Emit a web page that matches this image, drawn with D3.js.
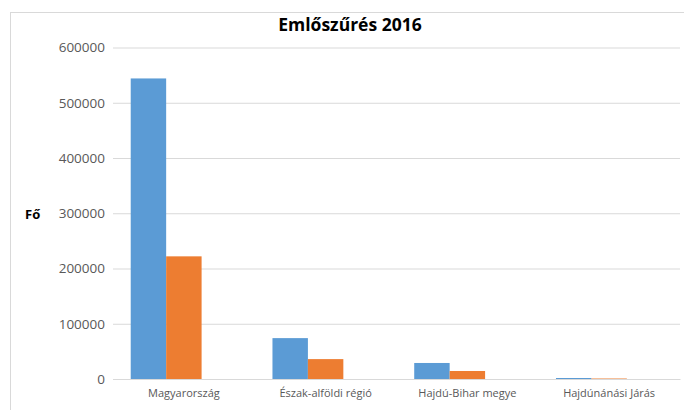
<!DOCTYPE html>
<html lang="hu">
<head>
<meta charset="utf-8">
<title>Emlőszűrés 2016</title>
<script src="https://d3js.org/d3.v7.min.js"></script>
<style>
  body { margin: 0; background: #fff; }
  #chart { width: 684px; height: 410px; }
  text { font-family: "Open Sans", "Noto Sans", sans-serif; }
</style>
</head>
<body>
<div id="chart"></div>
<script>
// adatok
const categories = ["Magyarország", "Észak-alföldi régió", "Hajdú-Bihar megye", "Hajdúnánási Járás"];
const seriesKeys = ["s1", "s2", "s3"];      // a harmadik sorozat üres
const values1 = [544000, 74000, 29000, 1800];
const values2 = [222000, 36000, 14500, 900];
const values3 = [null, null, null, null];
const yTicks = [0, 100000, 200000, 300000, 400000, 500000, 600000];

const width = 684, height = 410;
const margin = { left: 113, right: 4, top: 47.5, bottom: 31 };

const svg = d3.select("#chart").append("svg")
  .attr("width", width).attr("height", height);

// keret
svg.append("rect")
  .attr("x", 10.5).attr("y", 12.5)
  .attr("width", 700).attr("height", 420)
  .attr("fill", "none").attr("stroke", "#d9d9d9");

const x = d3.scaleBand().domain(categories)
  .range([margin.left, width - margin.right]).paddingInner(0.25).paddingOuter(0.125);
const xs = d3.scaleBand().domain(seriesKeys).range([0, x.bandwidth()]);
const y = d3.scaleLinear().domain([0, 600000]).range([height - margin.bottom, margin.top]);

// rácsvonalak + y tengely
const yAxis = svg.append("g")
  .attr("transform", `translate(${margin.left},0)`)
  .call(d3.axisLeft(y).tickValues(yTicks).tickFormat(d3.format("d"))
    .tickSize(-(width - margin.right - margin.left)).tickPadding(8));
yAxis.select(".domain").remove();
yAxis.selectAll(".tick line").attr("stroke", "#d9d9d9");
yAxis.selectAll(".tick text").attr("fill", "#595959").style("font-size", "13.5px");

// oszlopok
const rows = categories.map((c, i) => ({ cat: c, s1: values1[i], s2: values2[i], s3: values3[i] }));
const colors = { s1: "#5b9bd5", s2: "#ed7d31", s3: "#a5a5a5" };

svg.append("g").selectAll("g")
  .data(rows).join("g")
  .attr("transform", d => `translate(${x(d.cat)},0)`)
  .selectAll("rect")
  .data(d => seriesKeys.filter(k => d[k] != null).map(k => ({ key: k, v: d[k] })))
  .join("rect")
  .attr("x", d => xs(d.key))
  .attr("width", xs.bandwidth())
  .attr("y", d => y(d.v))
  .attr("height", d => y(0) - y(d.v))
  .attr("fill", d => colors[d.key]);

// x tengely
const xAxis = svg.append("g")
  .attr("transform", `translate(0,${y(0)})`)
  .call(d3.axisBottom(x).tickSize(0).tickPadding(10));
xAxis.select(".domain").attr("stroke", "#d9d9d9");
xAxis.selectAll(".tick text").attr("fill", "#595959").style("font-size", "11px");

// cím
svg.append("text")
  .attr("x", 350).attr("y", 31)
  .attr("text-anchor", "middle")
  .style("font-size", "17.5px").style("font-weight", "bold")
  .attr("fill", "#000")
  .text("Emlőszűrés 2016");

// y tengely felirat
svg.append("text")
  .attr("x", 25).attr("y", 218.5)
  .style("font-size", "13px").style("font-weight", "bold")
  .attr("fill", "#000")
  .text("Fő");
</script>
</body>
</html>
